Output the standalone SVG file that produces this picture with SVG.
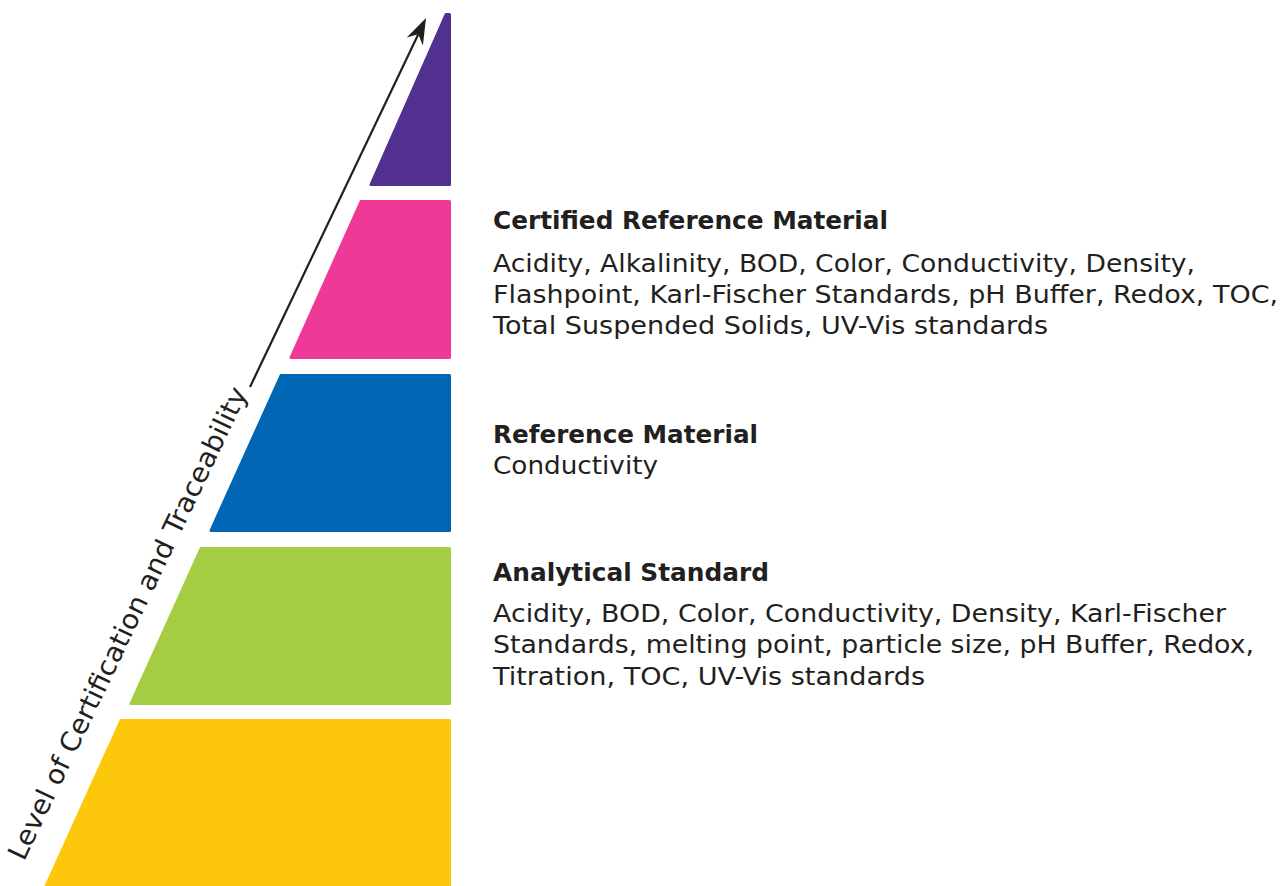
<svg xmlns="http://www.w3.org/2000/svg" width="1283" height="886" viewBox="0 0 1283 886">
<style>
.layer{stroke-width:3;stroke-linejoin:round}
.t{font-family:"DejaVu Sans","Verdana",sans-serif;fill:#231f20;font-size:24px}
.h{font-weight:bold}
</style>
<rect width="1283" height="886" fill="#ffffff"/>
<g id="layer-top">
<polygon class="layer" fill="#52308f" stroke="#52308f" points="446,14.5 449.5,14.5 449.5,184.5 371,184.5"/>
</g>
<g id="layer-crm">
<polygon class="layer" fill="#ee3a96" stroke="#ee3a96" points="361,201.5 449.5,201.5 449.5,357.5 291,357.5"/>
</g>
<g id="layer-rm">
<polygon class="layer" fill="#0066b3" stroke="#0066b3" points="281,375.5 449.5,375.5 449.5,530.5 211,530.5"/>
</g>
<g id="layer-as">
<polygon class="layer" fill="#a5cd43" stroke="#a5cd43" points="201,548.5 449.5,548.5 449.5,703.5 131,703.5"/>
</g>
<g id="layer-base">
<polygon class="layer" fill="#fdc70c" stroke="#fdc70c" points="121,720.5 449.5,720.5 449.5,886 46,886"/>
</g>
<g id="connectors">
<line x1="250" y1="387" x2="418.3" y2="34.2" stroke="#231f20" stroke-width="2.2"/>
<path d="M426,18 L422.9,45.4 L418.3,34.2 L406.7,37.6 Z" fill="#231f20"/>
</g>
<g id="axis-label">
<text class="t" font-size="27" style="font-size:27px" transform="translate(24,862) rotate(-64.5)" textLength="520" lengthAdjust="spacingAndGlyphs">Level of Certification and Traceability</text>
</g>
<g id="text-crm">
<text class="t h" x="493" y="229" textLength="395" lengthAdjust="spacingAndGlyphs">Certified Reference Material</text>
<text class="t" x="493" y="272" textLength="702" lengthAdjust="spacingAndGlyphs">Acidity, Alkalinity, BOD, Color, Conductivity, Density,</text>
<text class="t" x="493" y="303" textLength="785" lengthAdjust="spacingAndGlyphs">Flashpoint, Karl-Fischer Standards, pH Buffer, Redox, TOC,</text>
<text class="t" x="493" y="334" textLength="555" lengthAdjust="spacingAndGlyphs">Total Suspended Solids, UV-Vis standards</text>
</g>
<g id="text-rm">
<text class="t h" x="493" y="443" textLength="265" lengthAdjust="spacingAndGlyphs">Reference Material</text>
<text class="t" x="493" y="474" textLength="165" lengthAdjust="spacingAndGlyphs">Conductivity</text>
</g>
<g id="text-as">
<text class="t h" x="493" y="581" textLength="276" lengthAdjust="spacingAndGlyphs">Analytical Standard</text>
<text class="t" x="493" y="622" textLength="733" lengthAdjust="spacingAndGlyphs">Acidity, BOD, Color, Conductivity, Density, Karl-Fischer</text>
<text class="t" x="493" y="653" textLength="761" lengthAdjust="spacingAndGlyphs">Standards, melting point, particle size, pH Buffer, Redox,</text>
<text class="t" x="493" y="685" textLength="432" lengthAdjust="spacingAndGlyphs">Titration, TOC, UV-Vis standards</text>
</g>
</svg>
